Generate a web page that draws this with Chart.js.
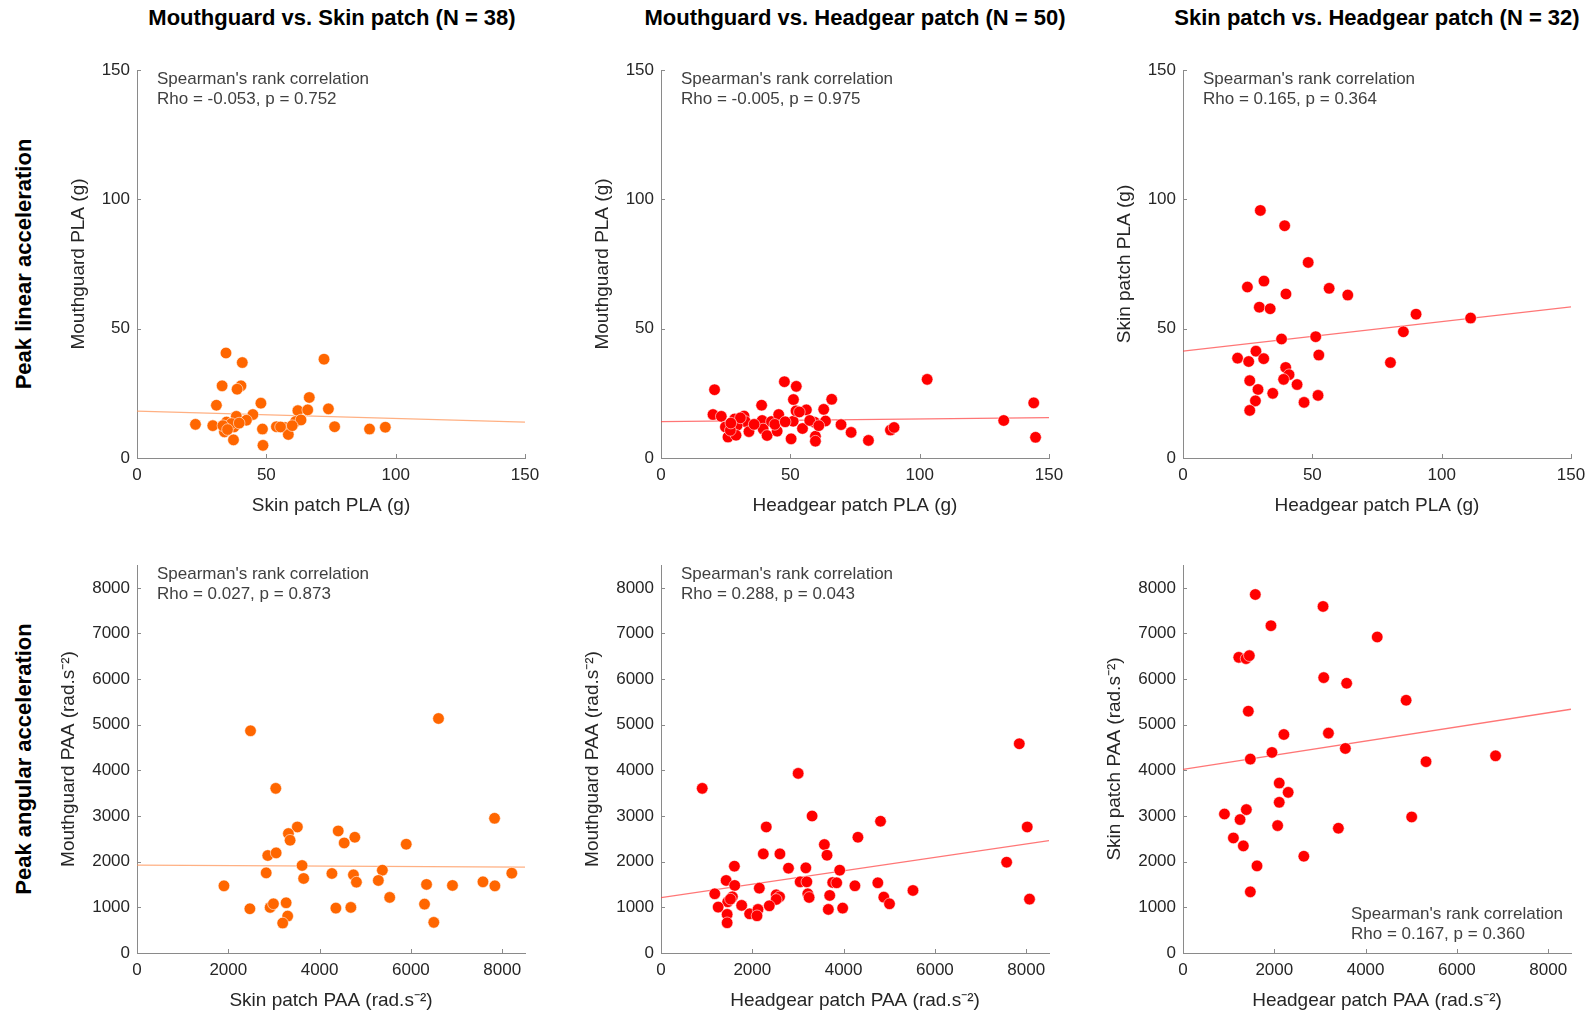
<!DOCTYPE html>
<html>
<head>
<meta charset="utf-8">
<script src="https://cdn.jsdelivr.net/npm/chart.js@4.4.1/dist/chart.umd.min.js"></script>
<style>
  body { margin:0; background:#fff; width:1592px; height:1014px; overflow:hidden; position:relative;
         font-family:"Liberation Sans", Arial, sans-serif; }
  .colTitle { position:absolute; top:5px; width:560px; height:26px; line-height:26px; text-align:center;
              font-weight:bold; font-size:22px; color:#000; }
  .rowTitle { position:absolute; width:420px; height:26px; line-height:26px; text-align:center;
              font-weight:bold; font-size:22px; color:#000; transform:rotate(-90deg); }
  canvas { position:absolute; }
</style>
</head>
<body>
<div class="colTitle" style="left:52px">Mouthguard vs. Skin patch (N = 38)</div>
<div class="colTitle" style="left:575px">Mouthguard vs. Headgear patch (N = 50)</div>
<div class="colTitle" style="left:1097px">Skin patch vs. Headgear patch (N = 32)</div>
<div class="rowTitle" style="left:-186px; top:251px">Peak linear acceleration</div>
<div class="rowTitle" style="left:-186px; top:746px">Peak angular acceleration</div>
<script>
// ---- data ----
// PLA in g, PAA in rad.s-2
const p1Skin = [34.4,40.7,72.3,32.9,40.2,38.7,30.7,47.9,66.6,74.0,62.2,66.0,22.6,29.3,34.6,38.4,44.8,42.3,35.8,
                37.5,33.8,37.3,48.5,48.7,53.9,57.2,58.5,61.3,63.4,76.4,89.9,96.0,36.5,33.2,39.5,60.0,55.5,35.0];
const p1Mg   = [40.6,36.9,38.2,27.9,27.9,26.6,20.4,21.2,23.4,19.0,18.3,18.6,13.0,12.5,13.9,16.1,16.8,14.6,12.0,
                12.0,10.1,7.0,11.2,4.9,12.1,11.8,9.1,14.1,14.7,12.1,11.2,11.9,13.3,12.5,13.5,12.5,12.0,11.0];

const p2Head = [20.7,47.7,52.3,102.9,38.9,51.2,66.0,144.1,20.1,23.3,32.1,28.5,32.6,24.9,29.4,25.9,29.0,34.0,39.1,39.5,
                41.0,42.7,44.9,45.5,51.1,50.3,52.2,56.2,54.7,59.4,62.9,63.6,59.7,59.7,69.6,73.5,80.2,88.7,90.1,132.5,
                144.8,26.8,53.5,30.7,27.0,36.0,44.0,57.5,61.0,48.0];
const p2Mg   = [26.4,29.5,27.7,30.4,20.4,22.6,22.7,21.3,16.8,16.1,16.2,15.1,14.1,12.0,12.6,8.1,8.8,10.2,14.5,11.2,
                8.7,14.1,10.4,16.8,14.2,7.4,18.2,18.6,11.4,13.8,18.8,14.3,8.4,6.5,12.9,9.9,6.8,10.8,11.8,14.5,
                8.0,10.7,17.8,15.5,13.5,13.0,13.0,14.5,12.5,14.0];

const p3Head = [29.9,39.3,48.4,24.9,31.3,39.8,56.5,63.7,29.5,33.7,90.1,85.2,38.1,51.3,28.2,21.1,25.4,31.2,52.5,80.2,
                39.7,41.0,38.9,25.8,44.1,29.0,34.7,52.2,28.0,46.8,25.8,111.2];
const p3Skin = [95.7,89.8,75.6,66.1,68.4,63.4,65.6,63.0,58.3,57.7,55.6,48.8,46.0,46.9,41.3,38.6,37.3,38.4,39.8,36.9,
                35.0,32.2,30.4,29.9,28.4,26.5,25.0,24.2,22.1,21.5,18.4,54.1];

const p4Skin = [2487,6605,3040,7833,3513,3317,3354,4408,4539,4772,5898,2865,3048,3616,2830,4270,4742,5375,3651,
                4807,5287,8211,1905,6343,6911,7579,7840,5536,2473,2917,2989,3267,4357,4685,6299,3301,3192,6502];
const p4Mg   = [4868,5137,3607,2951,2761,2617,2470,2674,2411,2536,2383,2136,2193,1917,1755,1742,1712,1814,1633,
                1552,1589,1749,1471,1502,1480,1559,1471,1218,969,999,1078,1100,984,999,1071,809,656,671];

const p5Head = [903,3005,7849,3310,4809,8023,2306,4314,3579,3637,2241,2605,7572,1608,2793,3173,3915,1427,1615,3048,
                3195,3762,3849,4248,4750,2154,5520,1178,1564,1462,2524,2597,2524,3216,3245,3696,4881,5006,8073,1252,
                1767,2372,3666,3980,1942,2125,2103,1449,1449,1521];
const p5Mg   = [3607,3935,4584,3001,2886,2761,2761,2536,2376,2142,2171,2171,1989,1902,1858,1865,1814,1589,1480,1559,
                1559,1545,1538,1472,1538,1421,1370,1297,1231,1122,1275,1231,1173,1297,1217,1261,1224,1078,1180,1006,
                1043,1034,955,984,859,955,815,846,662,1180];

const p6Head = [1584,3068,1927,4255,1222,1381,1453,3083,3585,4888,1431,2210,3186,3557,1949,1475,5324,2108,2304,2108,
                908,1388,1250,5010,2073,3404,1104,1322,2647,1621,1475,6847];
const p6Skin = [7854,7592,7170,6923,6477,6449,6514,6033,5909,5537,5297,4787,4816,4481,4394,4248,4191,3723,3519,3301,
                3045,3141,2923,2980,2791,2733,2520,2346,2120,1908,1340,4320];

// regression line ends [at x = 0, at x = axis max]
const p1Fit = [18.1, 13.9];
const p2Fit = [14.1, 15.6];
const p3Fit = [41.3, 58.4];
const p4Fit = [1924, 1880];
const p5Fit = [1215, 2460];
const p6Fit = [4022, 5340];

const plaTicks = [0, 50, 100, 150];
const paaXTicks = [0, 2000, 4000, 6000, 8000];
const paaYTicks = [0, 1000, 2000, 3000, 4000, 5000, 6000, 7000, 8000];

const rhoText = ["Rho = -0.053, p = 0.752", "Rho = -0.005, p = 0.975", "Rho = 0.165, p = 0.364",
                 "Rho = 0.027, p = 0.873", "Rho = 0.288, p = 0.043", "Rho = 0.167, p = 0.360"];

const ORANGE = '#ff6600', RED = '#ff0000';
const AXIS = '#8a8a8a', TXT = '#262626';
const FONT = '"Liberation Sans", Arial, sans-serif';
Chart.defaults.font.family = FONT;

// inward tick marks + the Spearman text
const decor = {
  id: 'decor',
  afterDraw(chart, args, opts) {
    const ctx = chart.ctx, a = chart.chartArea;
    const xs = chart.scales.x, ys = chart.scales.y;
    ctx.save();
    ctx.strokeStyle = AXIS;
    ctx.lineWidth = 1;
    xs.ticks.forEach(t => {
      const px = Math.round(xs.getPixelForValue(t.value)) + 0.5;
      ctx.beginPath(); ctx.moveTo(px, a.bottom); ctx.lineTo(px, a.bottom - 4); ctx.stroke();
    });
    ys.ticks.forEach(t => {
      const py = Math.round(ys.getPixelForValue(t.value)) + 0.5;
      ctx.beginPath(); ctx.moveTo(a.left, py); ctx.lineTo(a.left + 4, py); ctx.stroke();
    });
    ctx.fillStyle = '#404040';
    ctx.font = '17px ' + FONT;
    ctx.textBaseline = 'middle';
    ctx.textAlign = 'left';
    const x0 = a.left + opts.dx;
    const y0 = opts.atBottom ? a.bottom - 39 : a.top + 9;
    ctx.fillText("Spearman's rank correlation", x0, y0);
    ctx.fillText(opts.rho, x0, y0 + 20.5);
    ctx.restore();
  }
};

function makePanel(left, top, xv, yv, fit, color, lineColor, xMax, xTicks, yTicks, xLabel, yLabel, titlePad, rho, noteDx, atBottom) {
  const cv = document.createElement('canvas');
  cv.width = 388 + 100 + 20;
  cv.height = 388 + 10 + 62;
  cv.style.left = (left - 100) + 'px';
  cv.style.top = (top - 10) + 'px';
  document.body.appendChild(cv);

  const pts = xv.map((x, i) => ({x: x, y: yv[i]}));

  new Chart(cv, {
    type: 'scatter',
    data: {
      datasets: [
        { data: pts, backgroundColor: color, borderColor: 'rgba(255,255,255,0.7)', borderWidth: 0.8,
          pointRadius: 5.8, pointHoverRadius: 5.8, order: 1 },
        { data: [{x: 0, y: fit[0]}, {x: xMax, y: fit[1]}], showLine: true, borderColor: lineColor,
          borderWidth: 1.3, pointRadius: 0, order: 2 }
      ]
    },
    options: {
      responsive: false,
      animation: false,
      devicePixelRatio: 1,
      layout: { padding: { left: 0, top: 10, right: 20, bottom: 0 } },
      plugins: {
        legend: { display: false },
        tooltip: { enabled: false },
        decor: { rho: rho, dx: noteDx, atBottom: atBottom }
      },
      scales: {
        x: {
          type: 'linear', min: 0, max: xMax,
          afterBuildTicks: s => { s.ticks = xTicks.map(v => ({value: v})); },
          afterFit: s => { s.height = 62; s.paddingLeft = 0; s.paddingRight = 0; },
          grid: { display: false, drawTicks: false, tickLength: 0 },
          border: { display: true, color: AXIS, width: 1 },
          ticks: { color: TXT, font: { size: 17 }, padding: 7, maxRotation: 0, autoSkip: false,
                   callback: v => String(v) },
          title: { display: true, text: xLabel, color: TXT, font: { size: 19 }, padding: { top: 0, bottom: 3 } }
        },
        y: {
          type: 'linear', min: 0, max: xMax,
          afterBuildTicks: s => { s.ticks = yTicks.map(v => ({value: v})); },
          afterFit: s => { s.width = 100; s.paddingTop = 0; s.paddingBottom = 0; },
          grid: { display: false, drawTicks: false, tickLength: 0 },
          border: { display: true, color: AXIS, width: 1 },
          ticks: { color: TXT, font: { size: 17 }, padding: 7, autoSkip: false, callback: v => String(v) },
          title: { display: true, text: yLabel, color: TXT, font: { size: 19 }, padding: { top: titlePad, bottom: 0 } }
        }
      }
    },
    plugins: [decor]
  });
}

const LO = 'rgba(255,150,90,0.75)', LR = 'rgba(255,60,60,0.7)';
const cols = [137, 661, 1183];
const PAA = ' (rad.s\u207B\u00B2)';

makePanel(cols[0], 70, p1Skin, p1Mg, p1Fit, ORANGE, LO, 150, plaTicks, plaTicks,
  'Skin patch PLA (g)', 'Mouthguard PLA (g)', 30, rhoText[0], 20, false);
makePanel(cols[1], 70, p2Head, p2Mg, p2Fit, RED, LR, 150, plaTicks, plaTicks,
  'Headgear patch PLA (g)', 'Mouthguard PLA (g)', 30, rhoText[1], 20, false);
makePanel(cols[2], 70, p3Head, p3Skin, p3Fit, RED, LR, 150, plaTicks, plaTicks,
  'Headgear patch PLA (g)', 'Skin patch PLA (g)', 30, rhoText[2], 20, false);

makePanel(cols[0], 565, p4Skin, p4Mg, p4Fit, ORANGE, LO, 8500, paaXTicks, paaYTicks,
  'Skin patch PAA' + PAA, 'Mouthguard PAA' + PAA, 20, rhoText[3], 20, false);
makePanel(cols[1], 565, p5Head, p5Mg, p5Fit, RED, LR, 8500, paaXTicks, paaYTicks,
  'Headgear patch PAA' + PAA, 'Mouthguard PAA' + PAA, 20, rhoText[4], 20, false);
makePanel(cols[2], 565, p6Head, p6Skin, p6Fit, RED, LR, 8500, paaXTicks, paaYTicks,
  'Headgear patch PAA' + PAA, 'Skin patch PAA' + PAA, 20, rhoText[5], 168, true);
</script>
</body>
</html>
